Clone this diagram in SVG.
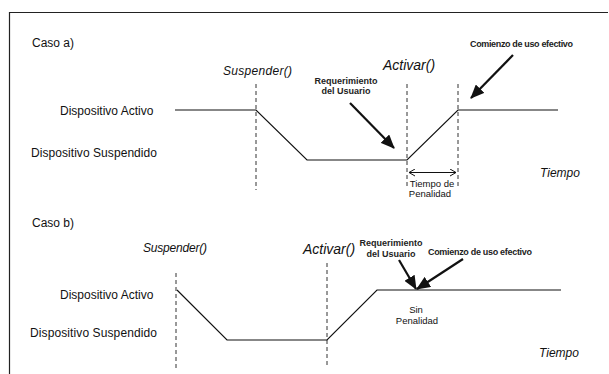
<svg xmlns="http://www.w3.org/2000/svg" width="609" height="374" viewBox="0 0 609 374">
<style>
.t{font-family:"Liberation Sans",Arial,sans-serif;fill:#111}
.m{font-size:12px}
.i{font-style:italic}
.s{font-size:9px;font-weight:bold;fill:#222}
.ln{stroke:#111;stroke-width:1.2;fill:none}
.ds{stroke:#333;stroke-width:1;stroke-dasharray:4,3;fill:none}
.ar{stroke:#111;stroke-width:2.2;fill:none}
</style>
<defs>
<marker id="ah" markerWidth="14" markerHeight="12" refX="13" refY="6" orient="auto" markerUnits="userSpaceOnUse"><path d="M0,0 L14,6 L0,12 z" fill="#111"/></marker>
<marker id="oa" markerWidth="7" markerHeight="8" refX="6.5" refY="4" orient="auto-start-reverse" markerUnits="userSpaceOnUse"><path d="M0.5,0.5 L6.5,4 L0.5,7.5" fill="none" stroke="#111" stroke-width="1"/></marker>
</defs>
<rect width="609" height="374" fill="#fff"/>
<path d="M9.5,374 V12.5 H608" stroke="#222" stroke-width="1.2" fill="none"/>

<g id="casoA">
<text class="t m" x="32" y="47">Caso a)</text>
</g>
<g id="suspenderA"><text class="t m i" x="223" y="75" textLength="69">Suspender()</text></g>
<g id="activarA"><text class="t i" x="383" y="70" font-size="14">Activar()</text></g>
<g id="activoA"><text class="t m" x="60" y="115">Dispositivo Activo</text></g>
<g id="suspendidoA"><text class="t m" x="31" y="157" textLength="126">Dispositivo Suspendido</text></g>
<g id="reqA"><text class="t s" x="346" y="84" text-anchor="middle">Requerimiento</text><text class="t s" x="346" y="94" text-anchor="middle">del Usuario</text></g>
<g id="comienzoA"><text class="t s" x="470" y="47" textLength="103">Comienzo de uso efectivo</text></g>
<g id="tiempoA"><text class="t m i" x="540" y="177">Tiempo</text></g>
<g id="penalidadA"><text class="t" x="432" y="187" font-size="9.5" text-anchor="middle">Tiempo de</text><text class="t" x="430" y="197" font-size="9.5" text-anchor="middle">Penalidad</text></g>

<g id="casoB"><text class="t m" x="32" y="227">Caso b)</text></g>
<g id="suspenderB"><text class="t m i" x="143" y="252" textLength="64">Suspender()</text></g>
<g id="activarB"><text class="t i" x="303" y="254" font-size="14">Activar()</text></g>
<g id="activoB"><text class="t m" x="60" y="299">Dispositivo Activo</text></g>
<g id="suspendidoB"><text class="t m" x="30" y="337" textLength="127">Dispositivo Suspendido</text></g>
<g id="reqB"><text class="t s" x="391" y="246" text-anchor="middle">Requerimiento</text><text class="t s" x="391" y="257" text-anchor="middle">del Usuario</text></g>
<g id="comienzoB"><text class="t s" x="428" y="255" textLength="104">Comienzo de uso efectivo</text></g>
<g id="sinB"><text class="t" x="416" y="313" font-size="9.5" text-anchor="middle">Sin</text><text class="t" x="417" y="324" font-size="9.5" text-anchor="middle">Penalidad</text></g>
<g id="tiempoB"><text class="t m i" x="539" y="357">Tiempo</text></g>

<g id="connectors">
<path class="ds" d="M256,84 V190 M407,84 V188 M458,84 V188"/>
<path class="ln" d="M175,110 H256 L307,160 H407 L458,110 H558"/>
<line x1="409" y1="172.5" x2="456" y2="172.5" stroke="#111" stroke-width="1" marker-start="url(#oa)" marker-end="url(#oa)"/>
<line class="ar" x1="350" y1="103" x2="394" y2="148" marker-end="url(#ah)"/>
<line class="ar" x1="513" y1="55" x2="471" y2="98" marker-end="url(#ah)"/>

<path class="ds" d="M176,273 V368 M327,263 V368"/>
<path class="ln" d="M177,290 L227,340 H327 L377,290 H561"/>
<line class="ar" x1="399" y1="260" x2="416" y2="289" marker-end="url(#ah)"/>
<line class="ar" x1="463" y1="259" x2="417" y2="289" marker-end="url(#ah)"/>
</g>
</svg>
